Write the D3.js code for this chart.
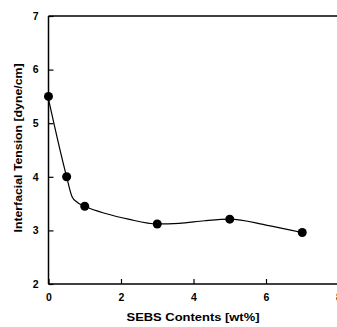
<!DOCTYPE html>
<html><head><meta charset="utf-8">
<script src="https://cdn.jsdelivr.net/npm/d3@7"></script>
<style>body{margin:0;background:#fff}svg{display:block}text{font-family:"Liberation Sans",Arial,sans-serif;font-weight:bold;fill:#000}</style>
</head><body><div id="chart"></div>
<script>
const sebs = [0, 0.5, 1, 3, 5, 7];
const tension = [5.5, 4.0, 3.45, 3.12, 3.21, 2.96];
const fitX = [0, 0.5, 0.65, 0.8, 1.0, 1.6, 2.2, 3.0, 3.6, 4.3, 5.0, 6.0, 7.0];
const fitY = [5.45, 4.0, 3.63, 3.52, 3.45, 3.31, 3.21, 3.12, 3.13, 3.18, 3.21, 3.1, 2.96];
const xTicks = [0, 2, 4, 6, 8];
const yTicks = [2, 3, 4, 5, 6, 7];
const W = 337, H = 327;
const svg = d3.select("#chart").append("svg").attr("width", W).attr("height", H);
const x = d3.scaleLinear().domain([0, 8]).range([48.5, 338.5]);
const y = d3.scaleLinear().domain([2, 7]).range([284, 16]);
const g = svg.append("g");
// frame lines
g.append("line").attr("x1", x(0)).attr("x2", x(8)).attr("y1", y(2)).attr("y2", y(2)).attr("stroke", "#000").attr("stroke-width", 1.5);
g.append("line").attr("x1", x(0)).attr("x2", x(8)).attr("y1", y(7)).attr("y2", y(7)).attr("stroke", "#000").attr("stroke-width", 1.5);
g.append("line").attr("x1", x(0)).attr("x2", x(0)).attr("y1", y(2)).attr("y2", y(7)).attr("stroke", "#000").attr("stroke-width", 1.5);
// ticks
const xa = d3.axisBottom(x).tickValues(xTicks).tickSize(-5).tickPadding(10).tickFormat(d3.format("d"));
const xg = g.append("g").attr("transform", `translate(0,${y(2)})`).call(xa);
xg.select(".domain").remove();
xg.selectAll("line").attr("stroke-width", 1.2);
xg.selectAll("text").attr("font-size", 10.5).attr("font-family", "Liberation Sans, Arial, sans-serif").attr("font-weight", "bold");
const ya = d3.axisLeft(y).tickValues(yTicks).tickSize(-5).tickPadding(10).tickFormat(d3.format("d"));
const yg = g.append("g").attr("transform", `translate(${x(0)},0)`).call(ya);
yg.select(".domain").remove();
yg.selectAll("line").attr("stroke-width", 1.2);
yg.selectAll("text").attr("font-size", 10.5).attr("font-family", "Liberation Sans, Arial, sans-serif").attr("font-weight", "bold");
// fit curve
const fit = fitX.map((v, i) => [v, fitY[i]]);
g.append("path").datum(fit)
  .attr("d", d3.line().x(d => x(d[0])).y(d => y(d[1])).curve(d3.curveMonotoneX))
  .attr("fill", "none").attr("stroke", "#000").attr("stroke-width", 1.2);
// points
g.selectAll("circle.pt").data(sebs.map((v, i) => [v, tension[i]])).enter().append("circle")
  .attr("cx", d => x(d[0])).attr("cy", d => y(d[1])).attr("r", 4.5).attr("fill", "#000");
// titles
svg.append("text").attr("x", 193).attr("y", 321).attr("text-anchor", "middle")
  .attr("font-size", 11).attr("textLength", 133).attr("lengthAdjust", "spacingAndGlyphs")
  .text("SEBS Contents [wt%]");
svg.append("text").attr("transform", "translate(22,148) rotate(-90)").attr("text-anchor", "middle")
  .attr("font-size", 10.5).attr("textLength", 169).attr("lengthAdjust", "spacingAndGlyphs")
  .text("Interfacial Tension [dyne/cm]");
</script></body></html>
